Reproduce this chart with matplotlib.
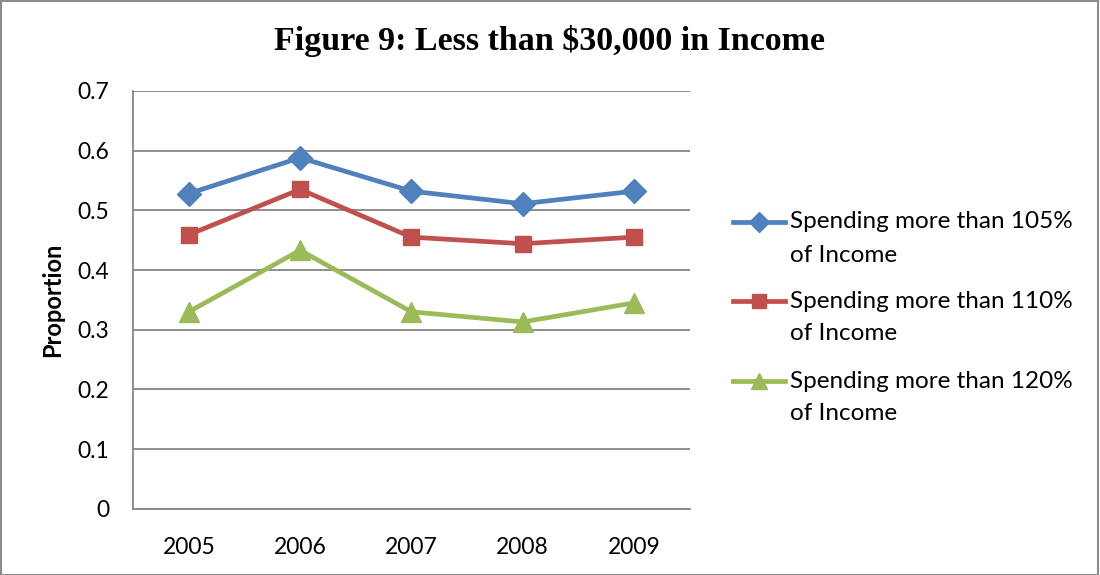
import matplotlib
matplotlib.use("Agg")
import matplotlib.pyplot as plt
from matplotlib.patches import Rectangle
from matplotlib.lines import Line2D

# ---- dati ----
years = ["2005", "2006", "2007", "2008", "2009"]
over_105 = [0.528, 0.588, 0.532, 0.511, 0.532]
over_110 = [0.459, 0.535, 0.455, 0.444, 0.455]
over_120 = [0.330, 0.433, 0.330, 0.313, 0.345]
labels = ["Spending more than 105%\nof Income",
          "Spending more than 110%\nof Income",
          "Spending more than 120%\nof Income"]
y_ticks = [0, 0.1, 0.2, 0.3, 0.4, 0.5, 0.6, 0.7]

SANS = ["Lato", "DejaVu Sans"]
GRID = "#868686"

fig = plt.figure(figsize=(11, 5.75), dpi=100)
fig.patches.append(Rectangle((0.001, 0.0), 0.997, 0.998, transform=fig.transFigure,
                             fill=False, ec="#8c8c8c", lw=1.5))
ax = fig.add_axes([0.121, 0.115, 0.506, 0.727])

x = range(len(years))
series = [(over_105, "#4F81BD", "D", 12),
          (over_110, "#C0504D", "s", 12),
          (over_120, "#9BBB59", "^", 14)]
for (vals, col, mk, ms), lab in zip(series, labels):
    ax.plot(x, vals, color=col, lw=3.4, marker=mk, ms=ms, mec=col, mfc=col, label=lab)

ax.set_xlim(-0.5, len(years) - 0.5)
ax.set_ylim(0, 0.7)
ax.set_yticks(y_ticks)
ax.set_yticklabels([f"{v:g}" for v in y_ticks], family=SANS, fontsize=16.5)
ax.set_xticks(list(x))
ax.set_xticklabels(years, family=SANS, fontsize=16.5)
ax.tick_params(length=0, pad=20)
ax.tick_params(axis="y", pad=17)
ax.grid(axis="y", color=GRID, lw=1.3)
ax.set_axisbelow(True)
for side in ("top", "right"):
    ax.spines[side].set_visible(False)
for side in ("left", "bottom"):
    ax.spines[side].set_color(GRID)
    ax.spines[side].set_linewidth(1.3)

ax.set_ylabel("Proportion", family=SANS, fontsize=17, fontweight="bold", labelpad=10)
fig.suptitle("Figure 9: Less than $30,000 in Income", family=["Liberation Serif", "DejaVu Serif"],
             fontsize=24.5, fontweight="bold", y=0.956)

# legenda a destra: simbolo allineato alla prima riga dell'etichetta
W, H = 1100, 575
row_y = [222, 301, 381]   # px dall'alto, prima riga di ogni voce
for (vals, col, mk, ms), lab, py in zip(series, labels, row_y):
    yf = 1 - py / H
    fig.add_artist(Line2D([733 / W, 785 / W], [yf, yf], transform=fig.transFigure,
                          color=col, lw=3.4))
    fig.add_artist(Line2D([759 / W], [yf], transform=fig.transFigure, color=col,
                          marker=mk, ms=ms * 0.85, mec=col, mfc=col, lw=0))
    first, second = lab.split("\n")
    fig.text(790 / W, yf, first, family=SANS, fontsize=17.5, ha="left", va="center")
    fig.text(790 / W, yf - 33 / H, second, family=SANS, fontsize=17.5, ha="left", va="center")

fig.savefig("out.png", dpi=100)
